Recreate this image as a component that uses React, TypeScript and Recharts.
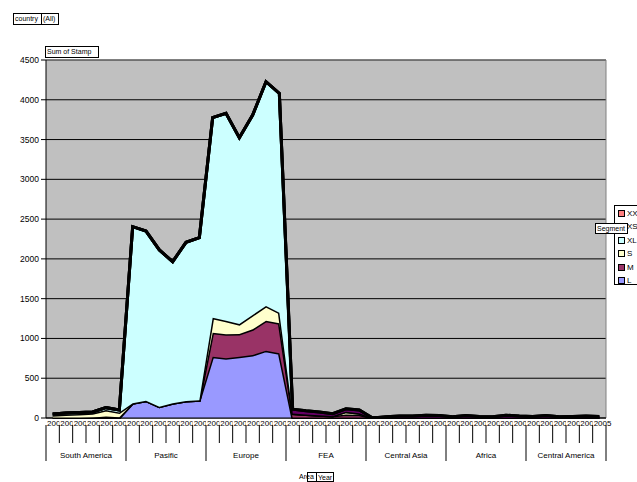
import React from 'react';
import { AreaChart, Area, XAxis, YAxis, CartesianGrid, ReferenceLine } from 'recharts';

// Pivot categories: 7 areas x 6 years
const areaNames = ['South America', 'Pasific', 'Europe', 'FEA', 'Central Asia', 'Africa', 'Central America'];
const years = ['2000', '2001', '2002', '2003', '2004', '2005'];
const yTicks = [0, 500, 1000, 1500, 2000, 2500, 3000, 3500, 4000, 4500];

// Sum of Stamp per segment, in category order (area by area, 6 years each)
const segL = [
  0, 0, 0, 0, 0, 0,
  185, 218, 142, 185, 214, 222,
  771, 750, 771, 792, 846, 813,
  0, 0, 0, 0, 0, 0,
  0, 0, 0, 0, 0, 0,
  0, 0, 0, 0, 0, 0,
  0, 0, 0, 0, 0, 0,
];
const segM = [
  0, 0, 0, 5, 20, 10,
  0, 0, 0, 0, 0, 0,
  301, 302, 285, 323, 377, 377,
  55, 45, 35, 25, 45, 40,
  0, 0, 0, 0, 0, 0,
  0, 0, 0, 0, 0, 0,
  0, 0, 0, 0, 0, 0,
];
const segS = [
  35, 45, 50, 55, 80, 60,
  0, 0, 0, 0, 0, 0,
  189, 171, 125, 180, 185, 134,
  0, 0, 0, 0, 35, 20,
  0, 0, 0, 0, 0, 0,
  0, 0, 0, 0, 0, 0,
  0, 0, 0, 0, 0, 0,
];
const segXL = [
  15, 18, 19, 15, 30, 30,
  2220, 2132, 1970, 1780, 1994, 2044,
  2514, 2607, 2342, 2513, 2819, 2757,
  0, 0, 0, 0, 0, 0,
  0, 0, 0, 0, 0, 0,
  0, 0, 0, 0, 0, 0,
  0, 0, 0, 0, 0, 0,
];
const segXS = [
  0, 0, 0, 0, 0, 0,
  0, 0, 0, 0, 0, 0,
  0, 0, 0, 0, 0, 0,
  55, 45, 40, 30, 35, 40,
  0, 15, 25, 25, 35, 30,
  15, 30, 20, 15, 35, 25,
  20, 30, 15, 20, 25, 20,
];
const segXXS = [
  0, 0, 0, 0, 0, 0,
  0, 0, 0, 0, 0, 0,
  0, 0, 0, 0, 0, 0,
  0, 0, 0, 0, 0, 0,
  0, 0, 0, 0, 0, 0,
  0, 0, 0, 0, 0, 0,
  0, 0, 0, 0, 0, 0,
];

// stack order bottom -> top, Excel default palette
const series = [
  { key: 'L', values: segL, color: '#9999FF' },
  { key: 'M', values: segM, color: '#993366' },
  { key: 'S', values: segS, color: '#FFFFCC' },
  { key: 'XL', values: segXL, color: '#CCFFFF' },
  { key: 'XS', values: segXS, color: '#660066' },
  { key: 'XXS', values: segXXS, color: '#FF8080' },
];

const data = areaNames.flatMap((area, a) =>
  years.map((year, y) => {
    const i = a * years.length + y;
    const row: Record<string, string | number> = { key: `${area}|${year}`, area, year };
    series.forEach((s) => { row[s.key] = s.values[i]; });
    return row;
  })
);

const FONT = '"Liberation Sans", Arial, sans-serif';
const PLOT_BOTTOM = 418;
const HALF = 560 / data.length / 2;

function CategoryTick(props: any) {
  const { x, index } = props;
  const yi = index % years.length;
  const left = x - HALF;
  const row = data[index];
  return (
    <g>
      <rect x={left} y={PLOT_BOTTOM + 1} width={HALF * 2 + 8} height={7} fill="#fff" />
      <text x={left + 1} y={PLOT_BOTTOM + 7.5} fontSize={8} fontFamily={FONT} fill="#000">{row.year}</text>
      <line x1={left} x2={left} y1={PLOT_BOTTOM + 7} y2={yi === 0 ? 461 : 443} stroke="#000" />
      {index === data.length - 1 && (
        <line x1={x + HALF} x2={x + HALF} y1={PLOT_BOTTOM + 7} y2={461} stroke="#000" />
      )}
      {yi === 2 && (
        <text x={x + HALF} y={458} textAnchor="middle" fontSize={8} fontFamily={FONT} fill="#000">
          {row.area}
        </text>
      )}
    </g>
  );
}

const box: React.CSSProperties = {
  position: 'absolute',
  border: '1px solid #000',
  background: '#fff',
  fontFamily: FONT,
  fontSize: 7,
  lineHeight: '9px',
  padding: '0 1px',
  whiteSpace: 'nowrap',
  boxSizing: 'border-box',
};

export default function App() {
  const legendItems = [...series].reverse();
  return (
    <div style={{ position: 'absolute', left: 0, top: 0, width: 637, height: 482, overflow: 'hidden', background: '#fff' }}>
      <AreaChart width={637} height={482} data={data} margin={{ top: 60, right: 31, bottom: 0, left: 0 }}>
        <CartesianGrid vertical={false} stroke="#000" fill="#C0C0C0" fillOpacity={1} />
        <CartesianGrid horizontal={false} verticalPoints={[606]} stroke="#808080" />
        <XAxis
          dataKey="key"
          interval={0}
          tickLine={false}
          axisLine={{ stroke: '#000' }}
          height={64}
          padding={{ left: HALF, right: HALF }}
          tick={<CategoryTick />}
        />
        <YAxis
          width={46}
          domain={[0, 4500]}
          ticks={yTicks}
          tickSize={5}
          tickMargin={2}
          tickLine={{ stroke: '#000' }}
          axisLine={{ stroke: '#000' }}
          tick={{ fontSize: 8.5, fill: '#000', fontFamily: FONT }}
        />
        <ReferenceLine y={4500} stroke="#808080" />
        {series.map((s) => (
          <Area
            key={s.key}
            dataKey={s.key}
            stackId="seg"
            type="linear"
            fill={s.color}
            fillOpacity={1}
            stroke="#000"
            strokeWidth={3}
            strokeLinejoin="miter"
            isAnimationActive={false}
          />
        ))}
      </AreaChart>

      {/* pivot field buttons */}
      <div style={{ ...box, left: 13, top: 13, height: 12, width: 29 }}>country</div>
      <div style={{ ...box, left: 41, top: 13, height: 12, width: 18 }}>(All)</div>
      <div style={{ ...box, left: 45, top: 46, height: 12, width: 54 }}>Sum of Stamp</div>

      {/* legend */}
      <div style={{ ...box, left: 614, top: 205, width: 40, height: 80, padding: 0 }}>
        {legendItems.map((s, i) => (
          <div key={s.key} style={{ position: 'absolute', left: 3, top: 3 + i * 13.4, height: 9, display: 'flex', alignItems: 'center' }}>
            <span style={{ width: 5, height: 5, background: s.color, border: '1px solid #000', marginRight: 2 }} />
            <span style={{ fontSize: 8 }}>{s.key}</span>
          </div>
        ))}
      </div>
      <div style={{ ...box, left: 595, top: 223, height: 11, width: 33 }}>Segment</div>

      <div style={{ position: 'absolute', left: 299, top: 472, fontFamily: FONT, fontSize: 7, lineHeight: '9px' }}>Area</div>
      <div style={{ ...box, left: 307, top: 472, height: 10, width: 10, background: 'transparent' }} />
      <div style={{ ...box, left: 316, top: 472, height: 10, width: 18 }}>Year</div>
    </div>
  );
}
